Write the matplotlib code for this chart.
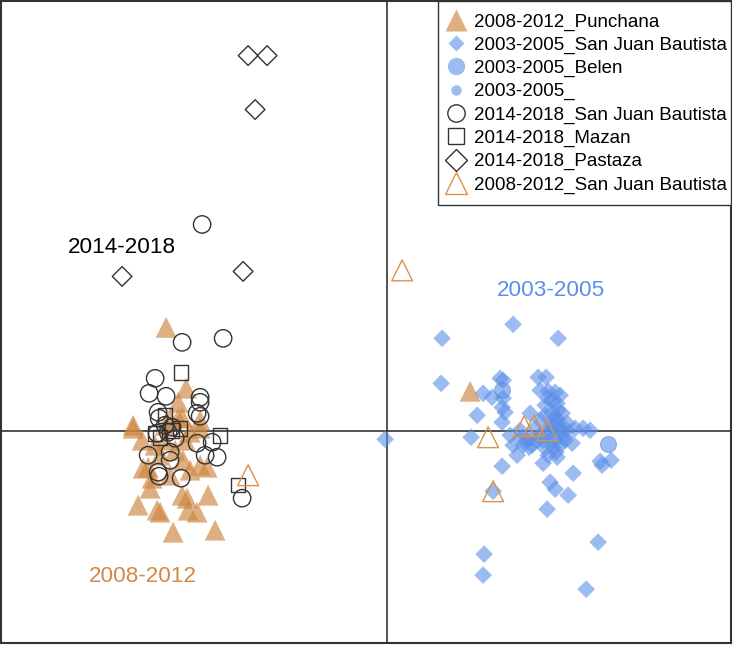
import matplotlib
matplotlib.use("Agg")
import matplotlib.pyplot as plt
from matplotlib.lines import Line2D
from matplotlib.patches import Rectangle

plt.rcParams['font.family'] = ['Liberation Sans', 'DejaVu Sans']

# ---- data (LD1, LD2 scores) ----
punchana_x = [-22.1, -20.1, -20.9, -20.5, -25.4, -25.4, -24.5, -20.9, -18.7, -18.7, -20.4, -18.7, -18.0,
              -23.9, -24.4, -23.5, -23.7, -20.5, -20.0, -17.9, -24.9, -23.0, -22.7, -19.9, -19.0, -21.4,
              -17.2, -23.2, -22.2, -21.7, -22.2, -19.7, -21.2, -22.7, -20.2, -21.7, -19.7, 8.3]
punchana_y = [10.4, 4.3, 2.9, 1.4, 0.6, 0.3, -0.9, 1.3, 1.1, 0.3, -2.9, -3.4, -3.6,
              -3.6, -3.7, -4.7, -5.7, -6.4, -6.7, -6.4, -7.4, -7.9, -8.1, -7.9, -8.1, -10.1,
              -9.9, -1.4, -0.9, 1.1, 0.6, -0.1, -1.9, -2.4, -0.9, -4.4, -3.9, 4.0]

sjb03_x = [-0.2, 5.5, 12.6, 17.1, 5.4, 11.3, 9.6, 10.5, 11.6, 11.5, 11.8, 9.0, 11.5, 8.4, 12.6, 11.5,
           13.6, 14.2, 15.1, 15.9, 15.3, 16.1, 16.8, 16.5, 17.0, 17.1, 16.5, 17.5, 16.8, 17.1, 18.0,
           17.0, 14.3, 16.3, 16.3, 16.6, 15.6, 15.0, 17.5, 18.0, 18.8, 19.6, 20.3, 18.5, 17.0, 15.6,
           18.6, 21.3, 22.4, 21.5, 16.3, 16.8, 18.1, 16.0, 10.6, 21.1, 9.7, 9.6, 19.9, 13.5, 14.0,
           14.3, 15.8, 15.3, 16.1, 16.8, 17.3, 14.8, 15.8, 17.6, 11.6, 13.3, 13.0, 12.3,
           16.1, 17.3, 16.5, 15.8, 17.3, 15.3, 14.5, 17.8, 16.9, 16.1]
sjb03_y = [-0.8, 9.3, 10.7, 9.3, 4.8, 5.3, 3.8, 3.4, 3.3, 2.4, 1.9, 1.6, 0.9, -0.6, -1.4, -3.5,
           -1.4, -1.6, 5.4, 5.4, 4.1, 4.0, 3.9, 3.1, 2.8, 2.1, 1.8, 1.8, 1.4, 1.1, 0.8,
           0.8, 1.8, 0.1, -0.9, -1.6, -0.9, -0.9, -0.1, 0.1, 0.3, 0.3, 0.1, -1.2, -2.6, -3.2,
           -4.2, -3.0, -2.9, -3.4, -5.1, -5.8, -6.4, -7.8, -6.0, -11.1, -12.3, -14.4, -15.8, -0.6, -0.9,
           -0.7, 2.6, 1.1, -0.2, -0.9, -1.4, 0.3, -1.7, -0.6, 5.1, 0.1, -2.4, -0.4,
           3.3, 3.6, 0.6, 1.6, 0.3, -0.4, -1.4, -0.9, -2.1, -2.4]

belen_x = [11.5, 22.1]
belen_y = [4.1, -1.3]

unk03_x = [16.1, 16.9]
unk03_y = [0.6, -0.1]

sjb14_x = [-18.5, -20.5, -16.4, -23.2, -23.8, -22.1, -18.7, -18.7, -19.0, -18.7, -22.9, -22.8, -23.0,
           -21.9, -21.2, -23.9, -21.7, -21.7, -19.0, -17.5, -18.2, -17.0, -22.9, -22.8, -20.6, -14.5,
           -22.2, -21.5]
sjb14_y = [20.7, 8.9, 9.3, 5.3, 3.8, 3.5, 3.4, 2.9, 1.8, 1.5, 1.9, 1.3, -0.2,
           -0.1, -0.7, -2.4, -2.1, -2.9, -1.2, -1.1, -2.4, -2.6, -4.1, -4.5, -4.7, -6.7,
           0.6, 0.4]

mazan_x = [-20.6, -22.2, -23.2, -22.7, -21.5, -20.7, -16.7, -14.9]
mazan_y = [5.9, 1.6, -0.2, -0.6, 0.1, 0.3, -0.4, -5.4]

pastaza_x = [-13.9, -12.0, -13.2, -26.5, -14.4]
pastaza_y = [37.6, 37.6, 32.2, 15.5, 16.0]

sjb08_x = [1.5, -13.9, 10.1, 10.6, 13.7, 14.7, 16.0]
sjb08_y = [16.1, -4.4, -0.6, -6.0, 0.5, 0.6, 0.1]

group_labels = ["2014-2018", "2003-2005", "2008-2012"]
group_label_x = [-26.5, 16.4, -24.4]
group_label_y = [18.4, 14.1, -14.5]

legend_labels = ["2008-2012_Punchana", "2003-2005_San Juan Bautista", "2003-2005_Belen",
                 "2003-2005_", "2014-2018_San Juan Bautista", "2014-2018_Mazan",
                 "2014-2018_Pastaza", "2008-2012_San Juan Bautista"]

# ---- styles ----
TAN = '#CD853F'
TAN_EDGE = '#D8924E'
BLUE = '#5B8FE8'
DARK = '#333333'

fig = plt.figure(figsize=(7.33, 6.45), dpi=100)
ax = fig.add_axes([0.0015, 0.003, 0.996, 0.996])

ax.axhline(0, color=DARK, lw=1.2, zorder=1)
ax.axvline(0, color=DARK, lw=1.2, zorder=1)

ax.scatter(sjb03_x, sjb03_y, marker='D', s=9**2, color=BLUE, alpha=0.6, edgecolors='none', zorder=2)
ax.scatter(belen_x, belen_y, marker='o', s=11.5**2, color=BLUE, alpha=0.6, edgecolors=BLUE, linewidths=0.8, zorder=2)
ax.scatter(unk03_x, unk03_y, marker='o', s=7**2, color=BLUE, alpha=0.6, edgecolors='none', zorder=2)
ax.scatter(punchana_x, punchana_y, marker='^', s=15**2, color=TAN, alpha=0.65, edgecolors='none', zorder=3)
ax.scatter(sjb14_x, sjb14_y, marker='o', s=12.5**2, facecolors='none', edgecolors=DARK, linewidths=1.0, zorder=4)
ax.scatter(mazan_x, mazan_y, marker='s', s=10.5**2, facecolors='none', edgecolors=DARK, linewidths=1.0, zorder=4)
ax.scatter(pastaza_x, pastaza_y, marker='D', s=10**2, facecolors='none', edgecolors=DARK, linewidths=1.0, zorder=4)
ax.scatter(sjb08_x, sjb08_y, marker='^', s=15**2, facecolors='none', edgecolors=TAN_EDGE, linewidths=1.0, zorder=4)

label_colors = ['black', BLUE, '#D08A45']
for t, x, y, c in zip(group_labels, group_label_x, group_label_y, label_colors):
    ax.text(x, y, t, color=c, fontsize=16.2, ha='center', va='center', zorder=5)

ax.set_xlim(-38.6, 34.4)
ax.set_ylim(-21.2, 43.1)
ax.set_xticks([])
ax.set_yticks([])
for sp in ax.spines.values():
    sp.set_color(DARK)
    sp.set_linewidth(1.5)

handles = [
    Line2D([], [], ls='none', marker='^', ms=16, color=TAN, alpha=0.65, mec='none'),
    Line2D([], [], ls='none', marker='D', ms=8, color=BLUE, alpha=0.6, mec='none'),
    Line2D([], [], ls='none', marker='o', ms=12.5, color=BLUE, alpha=0.6, mec='none'),
    Line2D([], [], ls='none', marker='o', ms=7.5, color=BLUE, alpha=0.6, mec='none'),
    Line2D([], [], ls='none', marker='o', ms=12.5, mfc='none', mec=DARK, mew=1.0),
    Line2D([], [], ls='none', marker='s', ms=11, mfc='none', mec=DARK, mew=1.0),
    Line2D([], [], ls='none', marker='D', ms=11, mfc='none', mec=DARK, mew=1.0),
    Line2D([], [], ls='none', marker='^', ms=16, mfc='none', mec=TAN_EDGE, mew=1.0),
]
leg = ax.legend(handles, legend_labels, loc='upper right', bbox_to_anchor=(1.0, 0.9863),
                borderaxespad=0, fontsize=13.5, frameon=False, labelspacing=0.32,
                handletextpad=0.35, handlelength=1.3, borderpad=0.2)

# legend frame box
ax.add_patch(Rectangle((0.5986, 0.682), 0.4014, 0.318, transform=ax.transAxes,
                       facecolor='white', edgecolor=DARK, lw=1.0, zorder=6))
leg.set_zorder(7)

fig.savefig('out.png', dpi=100)
